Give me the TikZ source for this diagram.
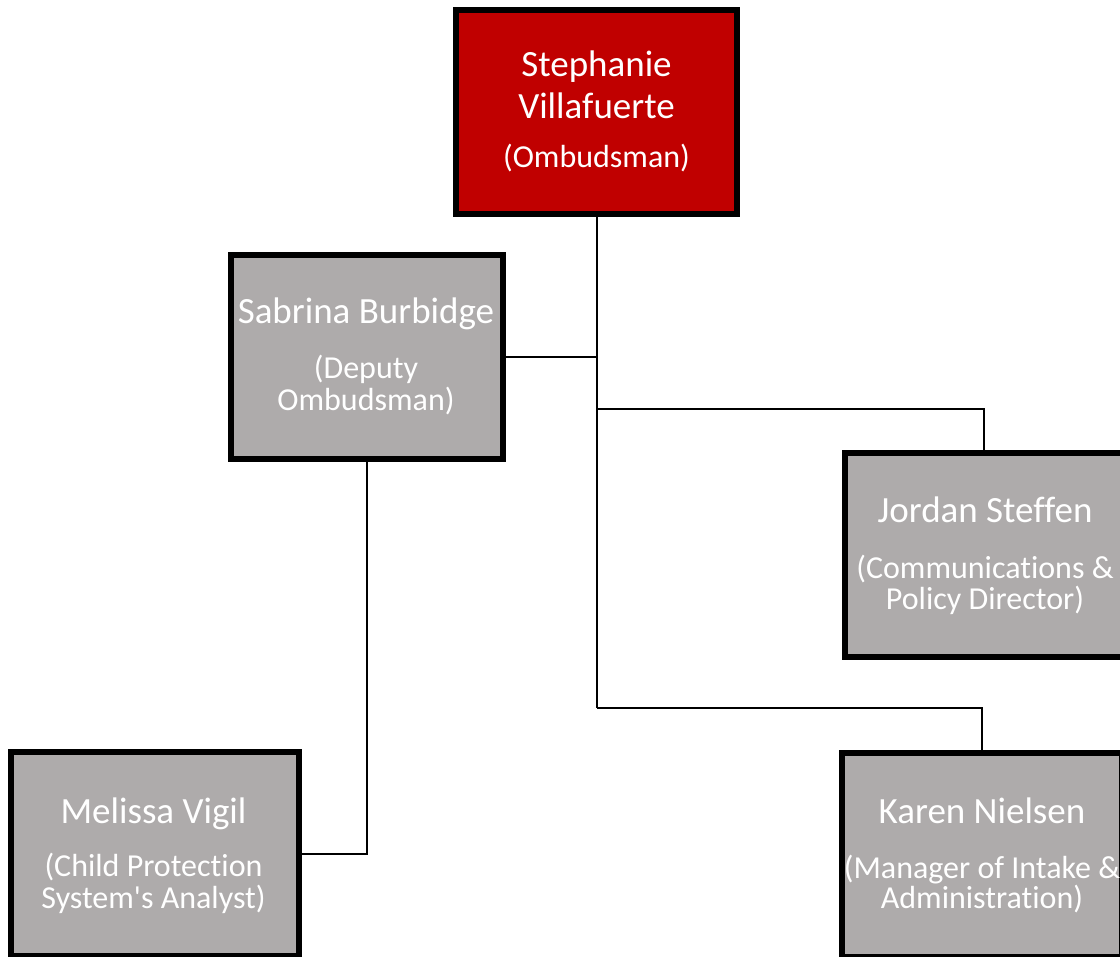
\documentclass[tikz,border=0pt]{standalone}
\usepackage{fontspec}
\setmainfont{Carlito}[Ligatures={NoCommon,TeXOff}]
\definecolor{ombred}{HTML}{C00000}
\definecolor{boxgray}{HTML}{AEABAB}
\tikzset{
  box/.style={draw=black, line width=6pt, minimum height=204pt, inner sep=0pt, rectangle},
  redbox/.style={box, fill=ombred},
  graybox/.style={box, fill=boxgray},
  nametext/.style={anchor=base, text=white, inner sep=0pt, font=\fontsize{37}{40}\selectfont},
  roletext/.style={anchor=base, text=white, inner sep=0pt, font=\fontsize{32}{34}\selectfont},
  conn/.style={draw=black, line width=2pt}
}
\begin{document}
\begin{tikzpicture}[x=1pt,y=-1pt]
\useasboundingbox (0,0) rectangle (1120,957);
\clip (0,0) rectangle (1120,957);
% boxes
\node[redbox, minimum width=281pt] (top) at (596.5,112) {};
\node[graybox, minimum width=272pt] (sab) at (367,357) {};
\node[graybox, minimum width=278pt] (jor) at (984,555) {};
\node[graybox, minimum width=280pt] (kar) at (982,855) {};
\node[graybox, minimum width=288pt] (mel) at (155,854) {};
% connectors
\coordinate (jv) at (597,409);
\coordinate (kv) at (597,708);
\draw[conn] (top.south) -- (top.south |- kv);
\draw[conn] (sab.east) -- (top.south |- sab.east);
\draw[conn] (top.south |- jv) -| (jor.north);
\draw[conn] (top.south |- kv) -| (kar.north);
\draw[conn] (sab.south) |- (mel.east);
% texts
\node[nametext] (topa) at (596.5,77) {Stephanie};
\node[nametext] (topb) at (596.5,119) {Villafuerte};
\node[roletext] (topc) at (596.5,168) {(Ombudsman)};
\node[nametext] (saba) at (366,324) {Sabrina Burbidge};
\node[roletext] (sabb) at (366,379) {(Deputy};
\node[roletext] (sabc) at (366,411) {Ombudsman)};
\node[nametext] (jora) at (985,523) {Jordan Steffen};
\node[roletext] (jorb) at (985,578) {(Communications \&};
\node[roletext] (jorc) at (985,609) {Policy Director)};
\node[nametext] (kara) at (982,823) {Karen Nielsen};
\node[roletext] (karb) at (982,878) {(Manager of Intake \&};
\node[roletext] (karc) at (982,908) {Administration)};
\node[nametext] (mela) at (153.5,823) {Melissa Vigil};
\node[roletext] (melb) at (153.5,876) {(Child Protection};
\node[roletext] (melc) at (153.5,908) {System's Analyst)};
\end{tikzpicture}
\end{document}
